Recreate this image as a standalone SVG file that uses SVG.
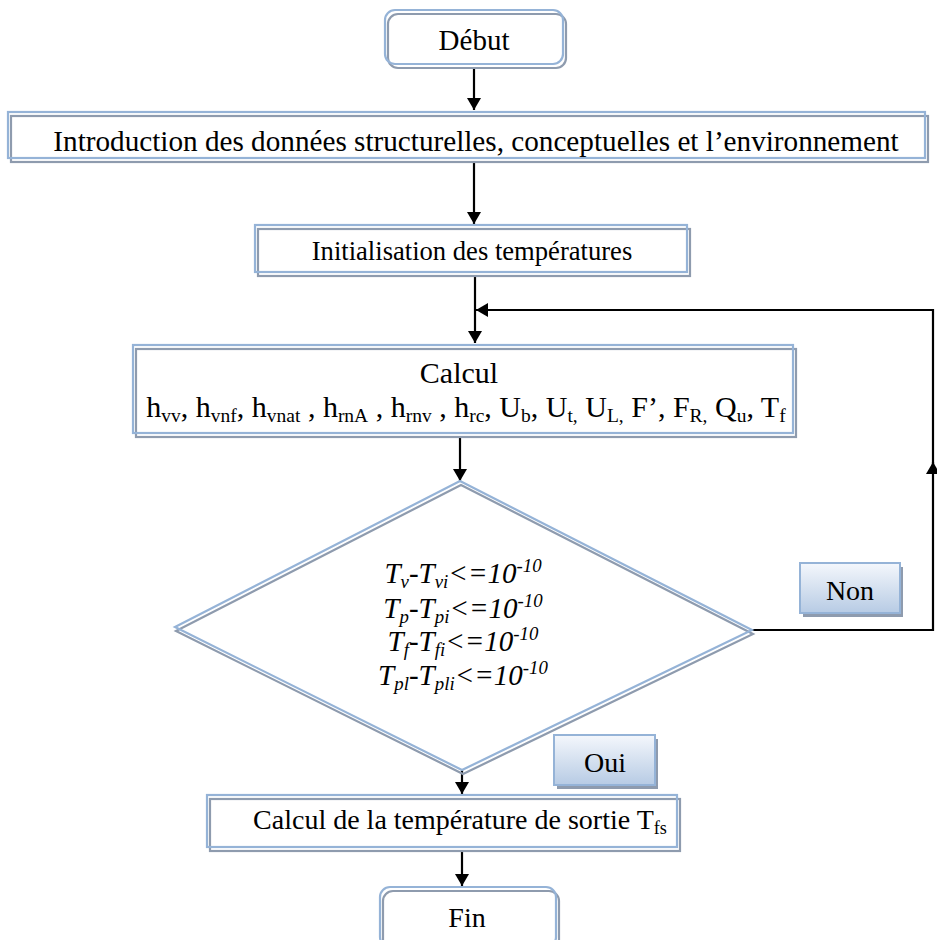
<svg xmlns="http://www.w3.org/2000/svg" width="937" height="940" viewBox="0 0 937 940">
<style>
.b{fill:none;stroke:#95B3D7;stroke-width:2.2}
.g{fill:none;stroke:#8E9BAE;stroke-width:2.2}
.w{fill:#fff;stroke:none}
.t{font-family:"Liberation Serif","Times New Roman",serif;fill:#000;text-anchor:middle}
.i{font-style:italic}
.s{font-size:0.65em}
.c{stroke:#000;stroke-width:2.2;fill:none}
</style>
<defs>
<marker id="ah" viewBox="0 0 12 14" refX="12" refY="7" markerWidth="12" markerHeight="14" markerUnits="userSpaceOnUse" orient="auto">
<path d="M0,0 L12,7 L0,14 Z" fill="#000"/>
</marker>
<linearGradient id="btn" x1="0" y1="0" x2="0" y2="1">
<stop offset="0" stop-color="#F4F7FC"/>
<stop offset="1" stop-color="#B7CBE4"/>
</linearGradient>
</defs>
<g id="connectors">
<path class="c" d="M474,68 V110" marker-end="url(#ah)"/>
<path class="c" d="M474,161 V224" marker-end="url(#ah)"/>
<path class="c" d="M475,275 V343" marker-end="url(#ah)"/>
<path class="c" d="M460,437 V481" marker-end="url(#ah)"/>
<path class="c" d="M752,630 H933 V462" marker-end="url(#ah)"/>
<path class="c" d="M933,470 V310 H476" marker-end="url(#ah)"/>
<path class="c" d="M462,770 V794" marker-end="url(#ah)"/>
<path class="c" d="M462,852 V886" marker-end="url(#ah)"/>
</g>
<g id="debut">
<rect class="w" x="385" y="10" width="178" height="54" rx="10"/>
<rect class="g" x="388" y="14" width="178" height="54" rx="10"/>
<rect class="b" x="385" y="10" width="178" height="54" rx="10"/>
<text class="t" x="474" y="50" font-size="29">Début</text>
</g>
<g id="introduction">
<rect class="w" x="8" y="112" width="917" height="46"/>
<rect class="g" x="11" y="116" width="917" height="46"/>
<rect class="b" x="8" y="112" width="917" height="46"/>
<text class="t" x="476" y="151" font-size="29.2">Introduction des données structurelles, conceptuelles et l’environnement</text>
</g>
<g id="initialisation">
<rect class="w" x="255" y="225" width="432" height="47"/>
<rect class="g" x="258" y="229" width="432" height="47"/>
<rect class="b" x="255" y="225" width="432" height="47"/>
<text class="t" x="472" y="260" font-size="26.6">Initialisation des températures</text>
</g>
<g id="calcul">
<rect class="w" x="133" y="345" width="660" height="88"/>
<rect class="g" x="136" y="349" width="660" height="88"/>
<rect class="b" x="133" y="345" width="660" height="88"/>
<text class="t" x="459" y="383" font-size="30">Calcul</text>
<text class="t" x="466" y="417" font-size="30">h<tspan class="s" baseline-shift="-5">vv</tspan>, h<tspan class="s" baseline-shift="-5">vnf</tspan>, h<tspan class="s" baseline-shift="-5">vnat</tspan> , h<tspan class="s" baseline-shift="-5">rnA</tspan> , h<tspan class="s" baseline-shift="-5">rnv</tspan> , h<tspan class="s" baseline-shift="-5">rc</tspan>, U<tspan class="s" baseline-shift="-5">b</tspan>, U<tspan class="s" baseline-shift="-5">t,</tspan> U<tspan class="s" baseline-shift="-5">L,</tspan> F’, F<tspan class="s" baseline-shift="-5">R,</tspan> Q<tspan class="s" baseline-shift="-5">u</tspan>, T<tspan class="s" baseline-shift="-5">f</tspan></text>
</g>
<g id="test">
<polygon class="w" points="460,481 752,630 462,770 175,627"/>
<polygon class="g" points="461,485 753,634 463,774 176,631"/>
<polygon class="b" points="460,481 752,630 462,770 175,627"/>
<text class="t i" x="463" y="583" font-size="29">T<tspan class="s" baseline-shift="-5">v</tspan>-T<tspan class="s" baseline-shift="-5">vi</tspan>&lt;=10<tspan class="s" baseline-shift="11">-10</tspan></text>
<text class="t i" x="463" y="618" font-size="29">T<tspan class="s" baseline-shift="-5">p</tspan>-T<tspan class="s" baseline-shift="-5">pi</tspan>&lt;=10<tspan class="s" baseline-shift="11">-10</tspan></text>
<text class="t i" x="463" y="651" font-size="29">T<tspan class="s" baseline-shift="-5">f</tspan>-T<tspan class="s" baseline-shift="-5">fi</tspan>&lt;=10<tspan class="s" baseline-shift="11">-10</tspan></text>
<text class="t i" x="463" y="685" font-size="29">T<tspan class="s" baseline-shift="-5">pl</tspan>-T<tspan class="s" baseline-shift="-5">pli</tspan>&lt;=10<tspan class="s" baseline-shift="11">-10</tspan></text>
</g>
<g id="non">
<rect x="803" y="567" width="100" height="50" fill="#8E9BAE"/>
<rect x="800" y="563" width="100" height="50" fill="url(#btn)" stroke="#95B3D7" stroke-width="2"/>
<text class="t" x="850" y="600" font-size="28">Non</text>
</g>
<g id="oui">
<rect x="557" y="739" width="101" height="50" fill="#8E9BAE"/>
<rect x="554" y="735" width="101" height="50" fill="url(#btn)" stroke="#95B3D7" stroke-width="2"/>
<text class="t" x="605" y="772" font-size="28">Oui</text>
</g>
<g id="sortie">
<rect class="w" x="207" y="795" width="470" height="52"/>
<rect class="g" x="210" y="799" width="470" height="52"/>
<rect class="b" x="207" y="795" width="470" height="52"/>
<text class="t" x="460" y="829" font-size="28">Calcul de la température de sortie T<tspan class="s" baseline-shift="-5">fs</tspan></text>
</g>
<g id="fin">
<rect class="w" x="380" y="887" width="176" height="60" rx="10"/>
<rect class="g" x="383" y="891" width="176" height="60" rx="10"/>
<rect class="b" x="380" y="887" width="176" height="60" rx="10"/>
<text class="t" x="467" y="927" font-size="28">Fin</text>
</g>
</svg>
